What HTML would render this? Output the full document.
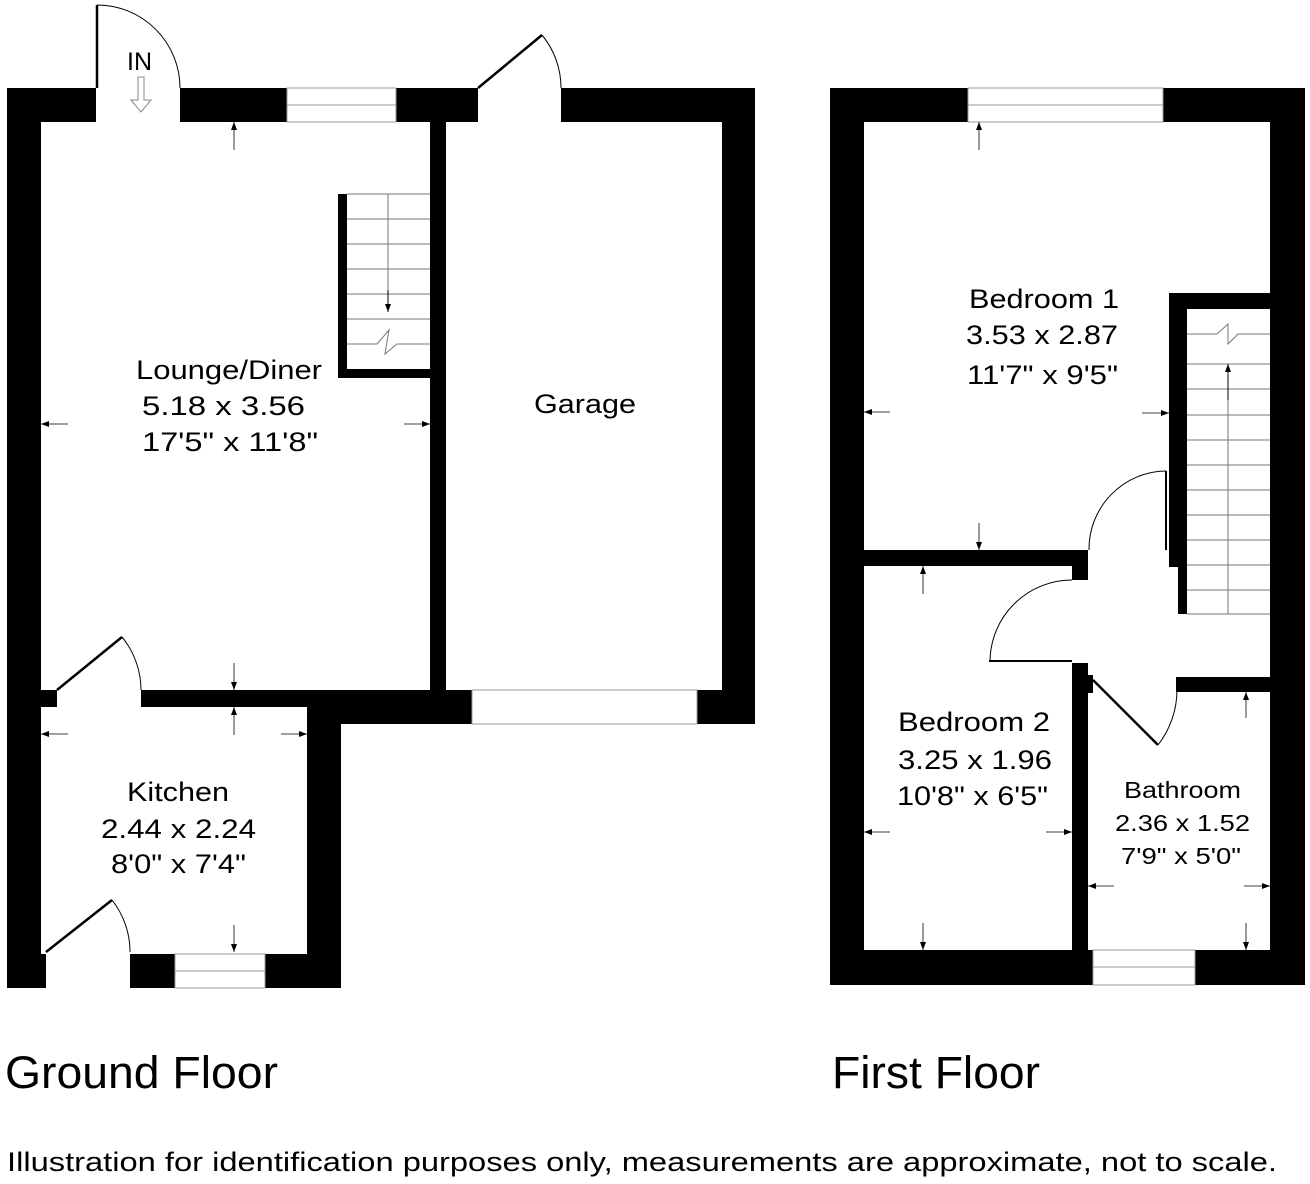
<!DOCTYPE html>
<html><head><meta charset="utf-8"><style>
html,body{margin:0;padding:0;background:#fff;}
svg{display:block;font-family:"Liberation Sans",Arial,sans-serif;}
</style></head><body>
<svg width="1310" height="1184" viewBox="0 0 1310 1184" xmlns="http://www.w3.org/2000/svg">
<defs>
<marker id="ah" markerWidth="8" markerHeight="8" refX="8" refY="4" orient="auto" markerUnits="userSpaceOnUse">
<path d="M0,1 L8,4 L0,7 z" fill="#000"/></marker>
</defs>
<rect width="1310" height="1184" fill="#fff"/>
<g fill="#000">
<rect x="7" y="88" width="89" height="34"/>
<rect x="7" y="88" width="34" height="897"/>
<rect x="180" y="88" width="107" height="34"/>
<rect x="396" y="88" width="82" height="34"/>
<rect x="561" y="88" width="194" height="34"/>
<rect x="722" y="88" width="33" height="636"/>
<rect x="430" y="122" width="16" height="568"/>
<rect x="41" y="690" width="16" height="17"/>
<rect x="141" y="690" width="331" height="17"/>
<rect x="307" y="690" width="165" height="34"/>
<rect x="697" y="690" width="58" height="34"/>
<rect x="307" y="707" width="34" height="281"/>
<rect x="7" y="954" width="39" height="34"/>
<rect x="130" y="954" width="45" height="34"/>
<rect x="265" y="954" width="76" height="34"/>
<rect x="338" y="194" width="9" height="184"/>
<rect x="338" y="369" width="92" height="9"/>
<rect x="830" y="88" width="138" height="34"/>
<rect x="1163" y="88" width="142" height="34"/>
<rect x="830" y="88" width="34" height="897"/>
<rect x="1270" y="88" width="35" height="897"/>
<rect x="830" y="950" width="263" height="35"/>
<rect x="1195" y="950" width="110" height="35"/>
<rect x="864" y="550" width="224" height="16"/>
<rect x="1072" y="550" width="16" height="30"/>
<rect x="1169" y="293" width="101" height="16"/>
<rect x="1169" y="293" width="18" height="274"/>
<rect x="1178" y="560" width="9" height="54"/>
<rect x="1072" y="663" width="16" height="287"/>
<rect x="1088" y="675" width="5" height="18"/>
<rect x="1176" y="677" width="94" height="15"/>
</g>
<g stroke="#000" fill="none">
<g stroke-width="1" stroke="#999">
<rect x="287" y="88" width="109" height="34"/><line x1="287" y1="105" x2="396" y2="105"/>
<rect x="472" y="690" width="225" height="34"/>
<rect x="175" y="954" width="90" height="34"/><line x1="175" y1="971" x2="265" y2="971"/>
<rect x="968" y="88" width="195" height="34"/><line x1="968" y1="105" x2="1163" y2="105"/>
<rect x="1093" y="950" width="102" height="35"/><line x1="1093" y1="967" x2="1195" y2="967"/>
</g>
<line x1="97" y1="88" x2="97" y2="5" stroke-width="2.5"/>
<path d="M97,5 A83,83 0 0 1 180,88" stroke-width="1"/>
<line x1="478" y1="88" x2="542" y2="35" stroke-width="2.5"/>
<path d="M542,35 A83,83 0 0 1 561,88" stroke-width="1"/>
<line x1="57" y1="690" x2="122" y2="637" stroke-width="2.5"/>
<path d="M122,637 A84,84 0 0 1 141,690" stroke-width="1"/>
<line x1="46" y1="952" x2="112" y2="900" stroke-width="2.5"/>
<path d="M112,900 A84,84 0 0 1 130,952" stroke-width="1"/>
<line x1="1166" y1="471" x2="1166" y2="550" stroke-width="2"/>
<path d="M1166,471 A78,78 0 0 0 1089,550" stroke-width="1"/>
<line x1="989" y1="661" x2="1072" y2="661" stroke-width="2"/>
<path d="M1072,580 A82,82 0 0 0 990,661" stroke-width="1"/>
<line x1="1093" y1="680" x2="1158" y2="745" stroke-width="2.5"/>
<path d="M1158,745 A90,90 0 0 0 1177,690" stroke-width="1"/>
<g stroke="#777" stroke-width="1">
<line x1="347" y1="194" x2="430" y2="194"/>
<line x1="347" y1="219" x2="430" y2="219"/><line x1="347" y1="244" x2="430" y2="244"/>
<line x1="347" y1="269" x2="430" y2="269"/><line x1="347" y1="294" x2="430" y2="294"/>
<line x1="347" y1="319" x2="430" y2="319"/>
<path d="M347,344 H377 L389,330 L385,354 L397,344 H430"/>
<line x1="388" y1="194" x2="388" y2="310"/>
</g>
<line x1="388" y1="290" x2="388" y2="312" stroke-width="1" marker-end="url(#ah)"/>
<g stroke="#777" stroke-width="1">
<path d="M1187,334 H1217 L1228,324 L1228,344 L1238,334 H1270"/>
<line x1="1187" y1="364" x2="1270" y2="364"/><line x1="1187" y1="389" x2="1270" y2="389"/>
<line x1="1187" y1="415" x2="1270" y2="415"/><line x1="1187" y1="440" x2="1270" y2="440"/>
<line x1="1187" y1="465" x2="1270" y2="465"/><line x1="1187" y1="490" x2="1270" y2="490"/>
<line x1="1187" y1="515" x2="1270" y2="515"/><line x1="1187" y1="540" x2="1270" y2="540"/>
<line x1="1187" y1="565" x2="1270" y2="565"/><line x1="1187" y1="590" x2="1270" y2="590"/>
<line x1="1187" y1="614" x2="1270" y2="614"/>
<line x1="1228" y1="614" x2="1228" y2="370"/>
</g>
<line x1="1228" y1="400" x2="1228" y2="364" stroke-width="1" marker-end="url(#ah)"/>
<path d="M138,77 V100 H131 L141,112 L151,100 H144 V77 Z" stroke="#888" stroke-width="1"/>
<g stroke-width="0.8" marker-end="url(#ah)">
<line x1="234" y1="150" x2="234" y2="122"/>
<line x1="68" y1="424" x2="41" y2="424"/>
<line x1="404" y1="424" x2="430" y2="424"/>
<line x1="234" y1="663" x2="234" y2="690"/>
<line x1="234" y1="735" x2="234" y2="707"/>
<line x1="68" y1="734" x2="41" y2="734"/>
<line x1="281" y1="734" x2="307" y2="734"/>
<line x1="234" y1="925" x2="234" y2="952"/>
<line x1="979" y1="150" x2="979" y2="122"/>
<line x1="890" y1="412" x2="864" y2="412"/>
<line x1="1142" y1="413" x2="1169" y2="413"/>
<line x1="979" y1="523" x2="979" y2="550"/>
<line x1="923" y1="594" x2="923" y2="566"/>
<line x1="890" y1="832" x2="864" y2="832"/>
<line x1="1046" y1="832" x2="1072" y2="832"/>
<line x1="923" y1="923" x2="923" y2="950"/>
<line x1="1246" y1="718" x2="1246" y2="692"/>
<line x1="1114" y1="886" x2="1088" y2="886"/>
<line x1="1244" y1="886" x2="1270" y2="886"/>
<line x1="1246" y1="923" x2="1246" y2="950"/>
</g>
</g>
<g fill="#000" font-size="27" lengthAdjust="spacingAndGlyphs">
<text x="127" y="70" font-size="25">IN</text>
<text x="136" y="379" textLength="186" lengthAdjust="spacingAndGlyphs">Lounge/Diner</text>
<text x="142" y="415" textLength="163" lengthAdjust="spacingAndGlyphs">5.18 x 3.56</text>
<text x="142" y="451" textLength="176" lengthAdjust="spacingAndGlyphs">17'5" x 11'8"</text>
<text x="534" y="413" textLength="102" lengthAdjust="spacingAndGlyphs">Garage</text>
<text x="127" y="801" textLength="102" lengthAdjust="spacingAndGlyphs">Kitchen</text>
<text x="101" y="838" textLength="155" lengthAdjust="spacingAndGlyphs">2.44 x 2.24</text>
<text x="111" y="873" textLength="135" lengthAdjust="spacingAndGlyphs">8'0" x 7'4"</text>
<text x="969" y="308" textLength="150" lengthAdjust="spacingAndGlyphs">Bedroom 1</text>
<text x="966" y="344" textLength="152" lengthAdjust="spacingAndGlyphs">3.53 x 2.87</text>
<text x="967" y="384" textLength="151" lengthAdjust="spacingAndGlyphs">11'7" x 9'5"</text>
<text x="898" y="731" textLength="152" lengthAdjust="spacingAndGlyphs">Bedroom 2</text>
<text x="898" y="769" textLength="154" lengthAdjust="spacingAndGlyphs">3.25 x 1.96</text>
<text x="897" y="805" textLength="151" lengthAdjust="spacingAndGlyphs">10'8" x 6'5"</text>
<text x="1124" y="798" font-size="23" textLength="117" lengthAdjust="spacingAndGlyphs">Bathroom</text>
<text x="1115" y="831" font-size="23" textLength="135" lengthAdjust="spacingAndGlyphs">2.36 x 1.52</text>
<text x="1121" y="864" font-size="23" textLength="120" lengthAdjust="spacingAndGlyphs">7'9" x 5'0"</text>
</g>
<g fill="#000" font-size="45">
<text x="5" y="1088" textLength="273" lengthAdjust="spacingAndGlyphs">Ground Floor</text>
<text x="832" y="1088" textLength="208" lengthAdjust="spacingAndGlyphs">First Floor</text>
</g>
<text x="7" y="1171" font-size="27" fill="#000" textLength="1270" lengthAdjust="spacingAndGlyphs">Illustration for identification purposes only, measurements are approximate, not to scale.</text>
</svg>
</body></html>
